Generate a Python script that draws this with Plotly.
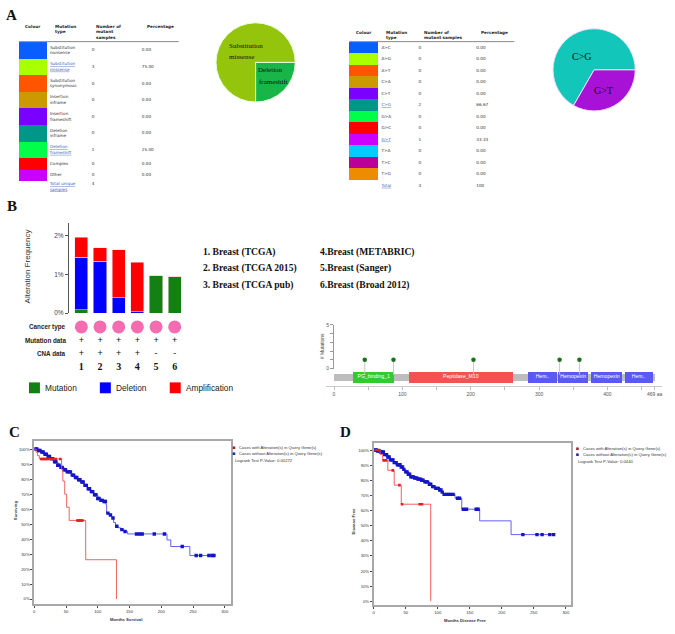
import plotly.graph_objects as go

W, H = 675, 634

# ---- panel A: mutation type table + pie ----
mut_types = ["Substitution<br>nonsense", "Substitution<br>missense", "Substitution<br>synonymous",
             "Insertion<br>inframe", "Insertion<br>frameshift", "Deletion<br>inframe",
             "Deletion<br>frameshift", "Complex", "Other"]
mut_counts = [0, 3, 0, 0, 0, 0, 1, 0, 0]
mut_pct = [0.00, 75.00, 0.00, 0.00, 0.00, 0.00, 25.00, 0.00, 0.00]
mut_colors = ["#0a5eff", "#aaff00", "#ff5500", "#cc9a00", "#7a00ff", "#00968a", "#00ff48", "#ff0000", "#cc00ff"]
mut_pie_colors = ["#94c40c", "#18b648"]
mut_total = 4

# ---- panel A: substitution table + pie ----
sub_types = ["A>C", "A>G", "A>T", "C>A", "C>T", "C>G", "G>A", "G>C", "G>T", "T>A", "T>C", "T>G"]
sub_counts = [0, 0, 0, 0, 0, 2, 0, 0, 1, 0, 0, 0]
sub_pct = [0.00, 0.00, 0.00, 0.00, 0.00, 66.67, 0.00, 0.00, 33.33, 0.00, 0.00, 0.00]
sub_colors = ["#0a5eff", "#aaff00", "#ff5500", "#cc9a00", "#7a00ff", "#00968a", "#00ff48", "#ff0000",
              "#cc00ff", "#00ccff", "#bb0099", "#ee8c00"]
sub_pie_colors = ["#12c6ba", "#a812d6"]
sub_total = 3

# ---- panel B: alteration frequency ----
studies = ["1. Breast (TCGA)", "2. Breast (TCGA 2015)", "3. Breast (TCGA pub)",
           "4.Breast (METABRIC)", "5.Breast (Sanger)", "6.Breast (Broad 2012)"]
study_ids = [1, 2, 3, 4, 5, 6]
mutation_freq = [0.09, 0, 0, 0, 0.98, 0.95]
deletion_freq = [1.35, 1.34, 0.40, 0.03, 0, 0]
amplification_freq = [0.52, 0.35, 1.24, 1.28, 0, 0]
mutation_data = ["+", "+", "+", "+", "+", "+"]
cna_data = ["+", "+", "+", "+", "-", "-"]

# ---- panel B: protein / lollipop ----
protein_length = 469
domain_names = ["PG_binding_1", "Peptidase_M10", "Hem..", "Hemopexin", "Hemopexin", "Hem.."]
domain_start = [28, 109, 284, 328, 376, 425]
domain_end = [88, 262, 326, 372, 422, 466]
domain_colors = ["#2fcc2f", "#f25252", "#5a5af2", "#5a5af2", "#5a5af2", "#5a5af2"]
lollipop_pos = [45, 87, 204, 330, 359]
lollipop_count = [1, 1, 1, 1, 1]

# ---- panel C: overall survival ----
c_alt_t = [0, 3, 5, 8, 43, 45, 48, 51, 55, 81, 129.5]
c_alt_s = [100, 97.8, 95.6, 93.4, 86.4, 78.6, 69.9, 61.2, 52.4, 26.2, 0]
c_alt_cens = [11, 13, 15, 17, 19, 21, 24, 27, 30, 34, 41, 68, 70, 72, 74, 76]
c_unalt_t = [0, 5, 10, 15, 20, 26, 31, 37, 42, 47, 52, 58, 63, 68, 73, 78, 84, 89, 94, 100,
             105, 110, 113, 114, 118, 122, 125, 128, 132, 136, 141, 147, 209, 215, 245]
c_unalt_s = [100, 99, 98, 96.5, 95, 93.6, 91.5, 89.2, 87.8, 86.2, 84.8, 82.6, 81, 79.5, 78, 75.8,
             73.5, 71.6, 69.5, 67, 65.8, 65, 62.8, 57.3, 56, 54, 51, 48.5, 47.5, 46.3, 45, 43.4,
             39.4, 35, 29]
c_unalt_cens = [2, 4, 7, 9, 12, 14, 17, 19, 22, 24, 27, 29, 32, 34, 37, 39, 42, 44, 47, 49, 52, 55,
                57, 60, 62, 65, 67, 70, 72, 75, 77, 80, 82, 85, 87, 90, 92, 95, 97, 100, 102, 105,
                107, 110, 112, 116, 120, 124, 130, 138, 143, 161, 166, 170, 189, 205, 233, 255,
                262, 275, 280, 283]
c_pvalue = "0.00272"

# ---- panel D: disease free ----
d_alt_t = [0, 10, 14, 22, 32, 43, 89]
d_alt_s = [100, 97.1, 93.2, 86.6, 76.8, 64.2, 0]
d_alt_cens = [5, 8, 15.6, 19.3, 29.7, 40.1, 44.2, 71.8, 75.4]
d_unalt_t = [0, 5, 10, 16, 21, 26, 31, 36, 42, 46, 50, 54, 58, 63, 68, 74, 80, 86, 91, 96, 102,
             106, 109, 127, 137.5, 165.5, 214.5]
d_unalt_s = [100, 99.4, 98.7, 97, 95.4, 93.5, 91.7, 90.3, 88.8, 87.2, 85.6, 84, 82.3, 81.5, 80.8,
             80, 79, 77.4, 75.8, 74.7, 73.6, 72.2, 70.7, 68.1, 60.9, 53.2, 44.1]
d_unalt_cens = [2, 4, 6, 9, 11, 13, 15, 17, 20, 22, 24, 26, 28, 30, 32, 35, 37, 39, 41, 43, 45, 47,
                50, 52, 54, 56, 58, 60, 62, 64, 67, 69, 71, 73, 75, 77, 80, 82, 84, 87, 89, 92, 94,
                97, 99, 101, 103, 105, 107, 110, 114, 117, 120, 124, 131, 134, 140, 145, 160, 163,
                233, 255, 263, 275, 281]
d_pvalue = "0.0440"


def dx(v):
    return v / W


def dy(v):
    return 1 - v / H


def km_at(t, times, surv):
    val = surv[0]
    for tt, ss in zip(times, surv):
        if tt <= t:
            val = ss
    return val


def link(txt):
    parts = txt.split("<br>")
    return "<br>".join("<span style='color:#3a66b8'><u>%s</u></span>" % p for p in parts)


TXT = dict(family="DejaVu Sans", size=4.2, color="#333333")
SERIF = "Liberation Serif"
SANS = "Liberation Sans"

fig = go.Figure()

# ===== tables (drawn on a full-page pixel canvas axis) =====
def add_table(types, counts, pcts, colors, top, x_sw, w_sw, x_type, x_num, x_pct, height_fn):
    heights = [height_fn(t) for t in types]
    tops = []
    cur = top
    for h in heights:
        tops.append(cur)
        cur += h
    centers = [t + h / 2 for t, h in zip(tops, heights)]
    fig.add_trace(go.Bar(x=[x_sw] * len(types), y=heights, base=tops, width=w_sw,
                         marker=dict(color=colors, line=dict(width=0)),
                         xaxis="x", yaxis="y", hoverinfo="skip"))
    labels = [link(t) if c > 0 else t for t, c in zip(types, counts)]
    fig.add_trace(go.Scatter(x=[x_type] * len(types), y=centers, text=labels, mode="text",
                             textposition="middle right", textfont=TXT, xaxis="x", yaxis="y",
                             hoverinfo="skip"))
    fig.add_trace(go.Scatter(x=[x_num] * len(types), y=centers, text=[str(c) for c in counts],
                             mode="text", textposition="middle right", textfont=TXT,
                             xaxis="x", yaxis="y", hoverinfo="skip"))
    fig.add_trace(go.Scatter(x=[x_pct] * len(types), y=centers, text=["%.2f" % p for p in pcts],
                             mode="text", textposition="middle right", textfont=TXT,
                             xaxis="x", yaxis="y", hoverinfo="skip"))
    return cur


end1 = add_table(mut_types, mut_counts, mut_pct, mut_colors, 39.3, 32, 28, 49, 91, 141,
                 lambda t: 5.8 + 5.5 * (t.count("<br>") + 1))
fig.add_trace(go.Scatter(x=[49, 91], y=[end1 + 6, end1 + 3],
                         text=[link("Total unique<br>samples"), str(mut_total)], mode="text",
                         textposition="middle right", textfont=TXT, xaxis="x", yaxis="y"))

end2 = add_table(sub_types, sub_counts, sub_pct, sub_colors, 39.3, 363.5, 29, 381, 418, 476,
                 lambda t: 11.6)
fig.add_trace(go.Scatter(x=[381, 418, 476], y=[end2 + 6] * 3,
                         text=[link("Total"), str(sub_total), "100"], mode="text",
                         textposition="middle right", textfont=TXT, xaxis="x", yaxis="y"))

HDR = dict(family="DejaVu Sans", size=4.2, color="#222222")
headers = [
    (32, 19, "<b>Colour</b>", "center"), (52, 19, "<b>Mutation<br>type</b>", "left"),
    (93, 19, "<b>Number of<br>mutant<br>samples</b>", "left"), (144, 19, "<b>Percentage</b>", "left"),
    (364, 25, "<b>Colour</b>", "center"), (384, 25, "<b>Mutation<br>type</b>", "left"),
    (422, 25, "<b>Number of<br>mutant samples</b>", "left"), (479, 25, "<b>Percentage</b>", "left"),
]
annotations = []
for x, y, t, al in headers:
    annotations.append(dict(x=x, y=y, xref="x", yref="y", text=t, showarrow=False, font=HDR,
                            xanchor=al, yanchor="top", align="left"))

shapes = [
    dict(type="line", xref="x", yref="y", x0=18, x1=178, y0=39, y1=39, line=dict(color="#888", width=1)),
    dict(type="line", xref="x", yref="y", x0=349, x1=514, y0=39, y1=39, line=dict(color="#888", width=1)),
]

# ===== pies =====
fig.add_trace(go.Pie(values=[c for c in mut_counts if c > 0],
                     labels=[t for t, c in zip(mut_types, mut_counts) if c > 0],
                     marker=dict(colors=mut_pie_colors, line=dict(color="#e8ffe0", width=1)),
                     sort=False, direction="clockwise", rotation=180, textinfo="none",
                     hoverinfo="skip", showlegend=False,
                     domain=dict(x=[dx(215), dx(295)], y=[dy(100), dy(20)])))
fig.add_trace(go.Pie(values=[c for c in sub_counts if c > 0],
                     labels=[t for t, c in zip(sub_types, sub_counts) if c > 0],
                     marker=dict(colors=sub_pie_colors, line=dict(color="#f0e0ff", width=1)),
                     sort=False, direction="clockwise", rotation=210, textinfo="none",
                     hoverinfo="skip", showlegend=False,
                     domain=dict(x=[dx(552), dx(636)], y=[dy(109), dy(26)])))
for x, y, t, s in [(245, 43, "Substitution", 7), (241, 55, "missense", 7), (270, 68, "Deletion", 7),
                   (273, 80, "frameshift", 7), (582, 54, "C>G", 10), (603, 88, "G>T", 10)]:
    annotations.append(dict(x=x, y=y, xref="x", yref="y", text=t, showarrow=False,
                            font=dict(family=SERIF, size=s, color="#111")))

# ===== panel B bars =====
bar_line = dict(color="rgba(255,220,230,0.9)", width=0.6)
fig.add_trace(go.Bar(x=study_ids, y=mutation_freq, name="Mutation", width=0.71,
                     marker=dict(color="#138013", line=bar_line), xaxis="x2", yaxis="y2"))
fig.add_trace(go.Bar(x=study_ids, y=deletion_freq, name="Deletion", width=0.71,
                     marker=dict(color="#0000ff", line=bar_line), xaxis="x2", yaxis="y2"))
fig.add_trace(go.Bar(x=study_ids, y=amplification_freq, name="Amplification", width=0.71,
                     marker=dict(color="#ff0000", line=bar_line), xaxis="x2", yaxis="y2"))

fig.add_trace(go.Scatter(x=study_ids, y=[0] * 6, mode="markers",
                         marker=dict(size=13, color="#f56cb0"), xaxis="x6", yaxis="y6"))
fig.add_trace(go.Scatter(x=study_ids, y=[1] * 6, mode="text", text=mutation_data,
                         textfont=dict(family=SANS, size=9, color="#111"), xaxis="x6", yaxis="y6"))
fig.add_trace(go.Scatter(x=study_ids, y=[2] * 6, mode="text", text=cna_data,
                         textfont=dict(family=SANS, size=9, color="#111"), xaxis="x6", yaxis="y6"))
fig.add_trace(go.Scatter(x=study_ids, y=[3] * 6, mode="text", text=["<b>%d</b>" % i for i in study_ids],
                         textfont=dict(family=SERIF, size=10, color="#111"), xaxis="x6", yaxis="y6"))
for i, lab in enumerate(["Cancer type", "Mutation data", "CNA data"]):
    annotations.append(dict(x=0.28, y=i, xref="x6", yref="y6", text="<b>%s</b>" % lab,
                            showarrow=False, xanchor="right",
                            font=dict(family=SANS, size=6.3, color="#222")))
annotations.append(dict(x=27, y=266, xref="x", yref="y", text="Alteration Frequency", textangle=-90,
                        showarrow=False, font=dict(family=SANS, size=8, color="#333")))

# bar legend
for x0, col, lab in [(28, "#138013", "Mutation"), (99, "#0000ff", "Deletion"), (169, "#ff0000", "Amplification")]:
    shapes.append(dict(type="rect", xref="x", yref="y", x0=x0, x1=x0 + 11, y0=383, y1=394,
                       fillcolor=col, line=dict(width=0)))
    annotations.append(dict(x=x0 + 14, y=389, xref="x", yref="y", text=lab, showarrow=False,
                            xanchor="left", font=dict(family=SANS, size=8.3, color="#222")))

# study list
for i, s in enumerate(studies):
    col_x = 200 if i < 3 else 317
    annotations.append(dict(x=col_x, y=251 + 17 * (i % 3), xref="x", yref="y", text="<b>%s</b>" % s,
                            showarrow=False, xanchor="left",
                            font=dict(family=SERIF, size=9.6, color="#111")))

# ===== lollipop =====
fig.add_trace(go.Bar(orientation="h", y=[-0.966], x=[protein_length], base=[0], width=0.8,
                     marker=dict(color="#bdbdbd", line=dict(width=0)), xaxis="x3", yaxis="y7"))
stem_x, stem_y = [], []
for p, c in zip(lollipop_pos, lollipop_count):
    stem_x += [p, p, None]
    stem_y += [-0.6, c, None]
fig.add_trace(go.Scatter(x=stem_x, y=stem_y, mode="lines", line=dict(color="#c8c8c8", width=1),
                         xaxis="x3", yaxis="y7"))
fig.add_trace(go.Bar(orientation="h", y=[-0.91] * len(domain_names),
                     x=[e - s for s, e in zip(domain_start, domain_end)], base=domain_start, width=1.36,
                     marker=dict(color=domain_colors, line=dict(width=0)), xaxis="x3", yaxis="y7"))
fig.add_trace(go.Scatter(x=[(s + e) / 2 for s, e in zip(domain_start, domain_end)],
                         y=[-0.91] * len(domain_names), text=domain_names, mode="text",
                         textfont=dict(family=SANS, size=5.1, color="white"), xaxis="x3", yaxis="y7"))
fig.add_trace(go.Scatter(x=lollipop_pos, y=lollipop_count, mode="markers", cliponaxis=False,
                         marker=dict(size=4.5, color="#1d6e1d"), xaxis="x3", yaxis="y3"))
annotations.append(dict(x=321, y=347, xref="x", yref="y", text="# Mutations", textangle=-90,
                        showarrow=False, font=dict(family=SANS, size=5, color="#444")))


# ===== KM curves =====
def add_km(times_a, surv_a, cens_a, times_u, surv_u, cens_u, end_a, end_u, xa, ya):
    fig.add_trace(go.Scatter(x=times_u + [end_u], y=surv_u + [surv_u[-1]], mode="lines",
                             line=dict(color="#5050f0", width=0.9, shape="hv"), xaxis=xa, yaxis=ya))
    fig.add_trace(go.Scatter(x=cens_u, y=[km_at(t, times_u, surv_u) for t in cens_u], mode="markers",
                             marker=dict(size=3.4, color="#1414c8", symbol="square"), xaxis=xa, yaxis=ya))
    fig.add_trace(go.Scatter(x=times_a + [end_a], y=surv_a + [surv_a[-1]], mode="lines",
                             line=dict(color="#f05050", width=0.9, shape="hv"), xaxis=xa, yaxis=ya))
    fig.add_trace(go.Scatter(x=cens_a, y=[km_at(t, times_a, surv_a) for t in cens_a], mode="markers",
                             marker=dict(size=2.6, color="#e02020", symbol="square"), xaxis=xa, yaxis=ya))


add_km(c_alt_t, c_alt_s, c_alt_cens, c_unalt_t, c_unalt_s, c_unalt_cens, c_alt_t[-1], 283, "x4", "y4")
add_km(d_alt_t, d_alt_s, d_alt_cens, d_unalt_t, d_unalt_s, d_unalt_cens, d_alt_t[-1], 281, "x5", "y5")

SMALL = dict(family=SANS, size=4.2, color="#333")
for lx, ly, pv in [(232, 449, c_pvalue), (576, 450, d_pvalue)]:
    shapes.append(dict(type="rect", xref="x", yref="y", x0=lx, x1=lx + 2.6, y0=ly - 1.3, y1=ly + 1.3,
                       fillcolor="#b01c2a", line=dict(width=0)))
    shapes.append(dict(type="rect", xref="x", yref="y", x0=lx, x1=lx + 2.6, y0=ly + 4.7, y1=ly + 7.3,
                       fillcolor="#1c2aa0", line=dict(width=0)))
    annotations.append(dict(x=lx + 4.5, y=ly, xref="x", yref="y", xanchor="left", showarrow=False,
                            text="Cases with Alteration(s) in Query Gene(s)", font=SMALL))
    annotations.append(dict(x=lx + 4.5, y=ly + 6, xref="x", yref="y", xanchor="left", showarrow=False,
                            text="Cases without Alteration(s) in Query Gene(s)", font=SMALL))
    annotations.append(dict(x=lx, y=ly + 12.5, xref="x", yref="y", xanchor="left", showarrow=False,
                            text="Logrank Test P-Value: " + pv, font=SMALL))

for x, y, t, ang in [(14, 512, "<b>Surviving</b>", -90), (125, 622, "<b>Months Survival</b>", 0),
                     (353, 523, "<b>Disease Free</b>", -90), (465, 623, "<b>Months Disease Free</b>", 0)]:
    annotations.append(dict(x=x, y=y, xref="x", yref="y", text=t, textangle=ang, showarrow=False,
                            font=SMALL))

# panel letters
for x, y, t in [(11, 12, "A"), (11, 205, "B"), (14, 433, "C"), (345, 433, "D")]:
    annotations.append(dict(x=x, y=y, xref="x", yref="y", text="<b>%s</b>" % t, showarrow=False,
                            font=dict(family=SERIF, size=15, color="#111")))

# ===== layout =====
hidden = dict(visible=False, fixedrange=True)
km_ticks = list(range(0, 101, 10))
km_x = dict(showline=True, mirror=True, linecolor="#a8a8a8", linewidth=1.6, ticks="outside", ticklen=2,
            tickcolor="#444", tickvals=[0, 50, 100, 150, 200, 250, 300], tickfont=SMALL, showgrid=False,
            zeroline=False)
km_y = dict(showline=True, mirror=True, linecolor="#a8a8a8", linewidth=1.6, ticks="outside", ticklen=2,
            tickcolor="#444", tickvals=km_ticks, ticktext=["%d%%" % v for v in km_ticks], tickfont=SMALL,
            showgrid=False, zeroline=False)

lx0 = 333.5
lscale = 0.6846
fig.update_layout(
    width=W, height=H,
    margin=dict(l=0, r=0, t=0, b=0),
    paper_bgcolor="white", plot_bgcolor="rgba(0,0,0,0)",
    showlegend=False, barmode="stack", hovermode=False,
    font=dict(family=SANS),
    xaxis=dict(domain=[0, 1], range=[0, W], **hidden),
    yaxis=dict(domain=[0, 1], range=[H, 0], **hidden),
    xaxis2=dict(domain=[dx(67), dx(185)], range=[0.28, 6.59], visible=False, anchor="y2"),
    yaxis2=dict(domain=[dy(313), dy(222)], range=[0, 2.33], anchor="free", position=dx(67),
                showline=True, linecolor="#555", linewidth=1, ticks="outside", ticklen=3,
                tickcolor="#555", tickvals=[0, 1, 2], ticktext=["0%", "1%", "2%"], showgrid=False,
                zeroline=False, tickfont=dict(family=SANS, size=6.5, color="#444")),
    xaxis6=dict(domain=[dx(67), dx(185)], range=[0.28, 6.59], visible=False, anchor="y6"),
    yaxis6=dict(domain=[dy(375), dy(320)], range=[3.512, -0.512], visible=False, anchor="x6"),
    xaxis3=dict(domain=[dx(325), dx(662)], range=[(325 - lx0) / lscale, (662 - lx0) / lscale],
                anchor="free", position=dy(387), showline=True, linecolor="#cccccc", linewidth=1,
                ticks="outside", ticklen=3, tickcolor="#bbb", showgrid=False, zeroline=False,
                tickvals=[0, 50, 100, 150, 200, 250, 300, 350, 400, 450, 469],
                ticktext=["0", "", "100", "", "200", "", "300", "", "400", "", "469 aa"],
                tickfont=dict(family=SANS, size=5, color="#555")),
    yaxis3=dict(domain=[dy(369), dy(325)], range=[0, 5], anchor="free", position=dx(332),
                showline=True, linecolor="#999999", linewidth=1, ticks="outside", ticklen=2.5,
                tickcolor="#999", tickvals=[0, 1, 2, 3, 4, 5], ticktext=["0", "", "", "", "", "5"],
                showgrid=False, zeroline=False, tickfont=dict(family=SANS, size=5, color="#555")),
    yaxis7=dict(domain=[dy(386), dy(322)], range=[-17 / 8.8, 53 / 8.8], visible=False, anchor="x3"),
    xaxis4=dict(domain=[dx(33.3), dx(230.7)], range=[0, 310.4], anchor="y4", **km_x),
    yaxis4=dict(domain=[dy(607), dy(442)], range=[-3.5, 105.5], anchor="x4", **km_y),
    xaxis5=dict(domain=[dx(373.3), dx(571)], range=[0, 308.4], anchor="y5", **km_x),
    yaxis5=dict(domain=[dy(607.7), dy(444)], range=[-2.4, 104.8], anchor="x5", **km_y),
    annotations=annotations,
    shapes=shapes,
)

fig.write_html("out.html", config={"displayModeBar": False},
               post_script="document.body.style.margin='0px';")
